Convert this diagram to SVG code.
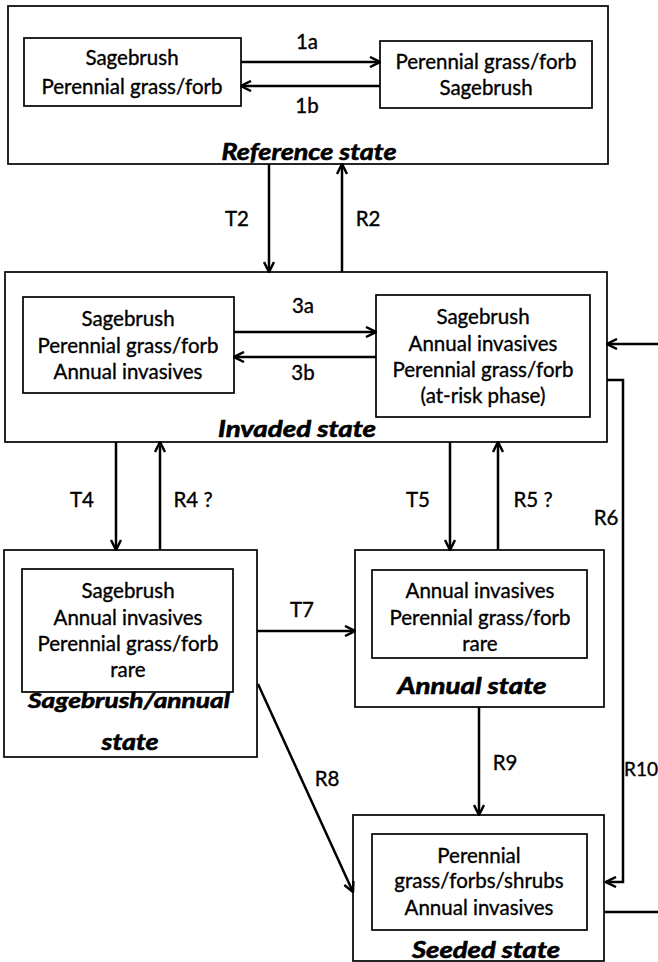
<svg xmlns="http://www.w3.org/2000/svg" width="658" height="962" viewBox="0 0 658 962">
  <style>
    .box { fill: #fff; stroke: #000; stroke-width: 1.7; }
    .txt { font-family: Lato, "Liberation Sans", sans-serif; font-size: 20.5px; fill: #000; stroke: #000; stroke-width: 0.35; text-anchor: middle; }
    .lbl { font-family: Lato, "Liberation Sans", sans-serif; font-size: 20.5px; fill: #000; stroke: #000; stroke-width: 0.35; text-anchor: middle; }
    .title { font-family: Lato, "Liberation Sans", sans-serif; font-size: 22px; font-weight: 700; font-style: italic; fill: #000; stroke: #000; stroke-width: 0.6; text-anchor: middle; }
    .conn { fill: none; stroke: #000; stroke-width: 2.5; marker-end: url(#chev); }
    .plain { fill: none; stroke: #000; stroke-width: 2.5; }
  </style>
  <defs>
    <marker id="chev" markerUnits="userSpaceOnUse" viewBox="0 0 12 12" refX="11" refY="6" markerWidth="12" markerHeight="12" orient="auto">
      <path d="M1,1 L11,6 L1,11" fill="none" stroke="#000" stroke-width="2.5" stroke-linejoin="miter"/>
    </marker>
  </defs>
  <rect width="658" height="962" fill="#fff"/>

  <!-- Reference state -->
  <g id="reference-state">
    <rect class="box" x="8" y="6" width="600" height="158"/>
    <g id="ref-phase-a">
      <rect class="box" x="24" y="38" width="217" height="68"/>
      <text class="txt" x="132" y="65">Sagebrush</text>
      <text class="txt" x="132" y="94">Perennial grass/forb</text>
    </g>
    <g id="ref-phase-b">
      <rect class="box" x="380" y="41" width="212" height="67"/>
      <text class="txt" x="486" y="69">Perennial grass/forb</text>
      <text class="txt" x="486" y="95">Sagebrush</text>
    </g>
    <text class="title" x="309" y="160" style="font-size:23.5px" textLength="175" lengthAdjust="spacingAndGlyphs">Reference state</text>
  </g>

  <!-- Invaded state -->
  <g id="invaded-state">
    <rect class="box" x="5" y="272" width="602" height="170"/>
    <g id="inv-phase-a">
      <rect class="box" x="23" y="297" width="211" height="96"/>
      <text class="txt" x="128" y="326">Sagebrush</text>
      <text class="txt" x="128" y="353">Perennial grass/forb</text>
      <text class="txt" x="128" y="379">Annual invasives</text>
    </g>
    <g id="inv-phase-b">
      <rect class="box" x="376" y="295" width="214" height="122"/>
      <text class="txt" x="483" y="324">Sagebrush</text>
      <text class="txt" x="483" y="351">Annual invasives</text>
      <text class="txt" x="483" y="377">Perennial grass/forb</text>
      <text class="txt" x="483" y="403">(at-risk phase)</text>
    </g>
    <text class="title" x="297" y="437" textLength="158" lengthAdjust="spacingAndGlyphs">Invaded state</text>
  </g>

  <!-- Sagebrush/annual state -->
  <g id="sagebrush-annual-state">
    <rect class="box" x="4" y="550" width="253" height="207"/>
    <rect class="box" x="22" y="569" width="211" height="123"/>
    <text class="txt" x="128" y="598">Sagebrush</text>
    <text class="txt" x="128" y="625">Annual invasives</text>
    <text class="txt" x="128" y="651">Perennial grass/forb</text>
    <text class="txt" x="128" y="677">rare</text>
    <text class="title" x="129" y="708" style="font-size:21.5px" textLength="202" lengthAdjust="spacingAndGlyphs">Sagebrush/annual</text>
    <text class="title" x="130" y="750" style="font-size:22px" textLength="57" lengthAdjust="spacingAndGlyphs">state</text>
  </g>

  <!-- Annual state -->
  <g id="annual-state">
    <rect class="box" x="355" y="550" width="249" height="157"/>
    <rect class="box" x="372" y="570" width="215" height="88"/>
    <text class="txt" x="480" y="598">Annual invasives</text>
    <text class="txt" x="480" y="625">Perennial grass/forb</text>
    <text class="txt" x="480" y="651">rare</text>
    <text class="title" x="472" y="694" textLength="149" lengthAdjust="spacingAndGlyphs">Annual state</text>
  </g>

  <!-- Seeded state -->
  <g id="seeded-state">
    <rect class="box" x="353" y="815" width="251" height="146"/>
    <rect class="box" x="372" y="834" width="215" height="96"/>
    <text class="txt" x="479" y="863">Perennial</text>
    <text class="txt" x="479" y="888">grass/forbs/shrubs</text>
    <text class="txt" x="479" y="915">Annual invasives</text>
    <text class="title" x="486" y="958" textLength="148" lengthAdjust="spacingAndGlyphs">Seeded state</text>
  </g>

  <!-- Transitions and restoration pathways -->
  <g id="connectors">
    <line class="conn" x1="241" y1="62" x2="380" y2="62"/>
    <line class="conn" x1="380" y1="86" x2="241" y2="86"/>
    <text class="lbl" x="307" y="49">1a</text>
    <text class="lbl" x="307" y="113">1b</text>

    <line class="conn" x1="269" y1="164" x2="269" y2="272"/>
    <line class="conn" x1="342" y1="272" x2="342" y2="164"/>
    <text class="lbl" x="237" y="226">T2</text>
    <text class="lbl" x="368" y="226">R2</text>

    <line class="conn" x1="234" y1="332" x2="376" y2="332"/>
    <line class="conn" x1="376" y1="357" x2="234" y2="357"/>
    <text class="lbl" x="303" y="313">3a</text>
    <text class="lbl" x="303" y="380">3b</text>

    <line class="conn" x1="116" y1="442" x2="116" y2="550"/>
    <line class="conn" x1="160" y1="550" x2="160" y2="442"/>
    <text class="lbl" x="82" y="507">T4</text>
    <text class="lbl" x="193" y="507">R4 ?</text>

    <line class="conn" x1="450" y1="442" x2="450" y2="550"/>
    <line class="conn" x1="498" y1="550" x2="498" y2="442"/>
    <text class="lbl" x="418" y="507">T5</text>
    <text class="lbl" x="533" y="507">R5 ?</text>

    <line class="conn" x1="257" y1="631" x2="355" y2="631"/>
    <text class="lbl" x="302" y="617">T7</text>

    <line class="conn" x1="258" y1="684" x2="353" y2="892"/>
    <text class="lbl" x="327" y="786">R8</text>

    <line class="conn" x1="479" y1="707" x2="479" y2="815"/>
    <text class="lbl" x="505" y="770">R9</text>

    <polyline class="conn" points="607,380 623,380 623,882 606,882"/>
    <text class="lbl" x="606" y="525">R6</text>

    <line class="conn" x1="658" y1="344" x2="607" y2="344"/>
    <line class="plain" x1="604" y1="912" x2="658" y2="912"/>
    <text class="lbl" x="624" y="776" style="text-anchor:start; font-size:19px">R10</text>
  </g>
</svg>
